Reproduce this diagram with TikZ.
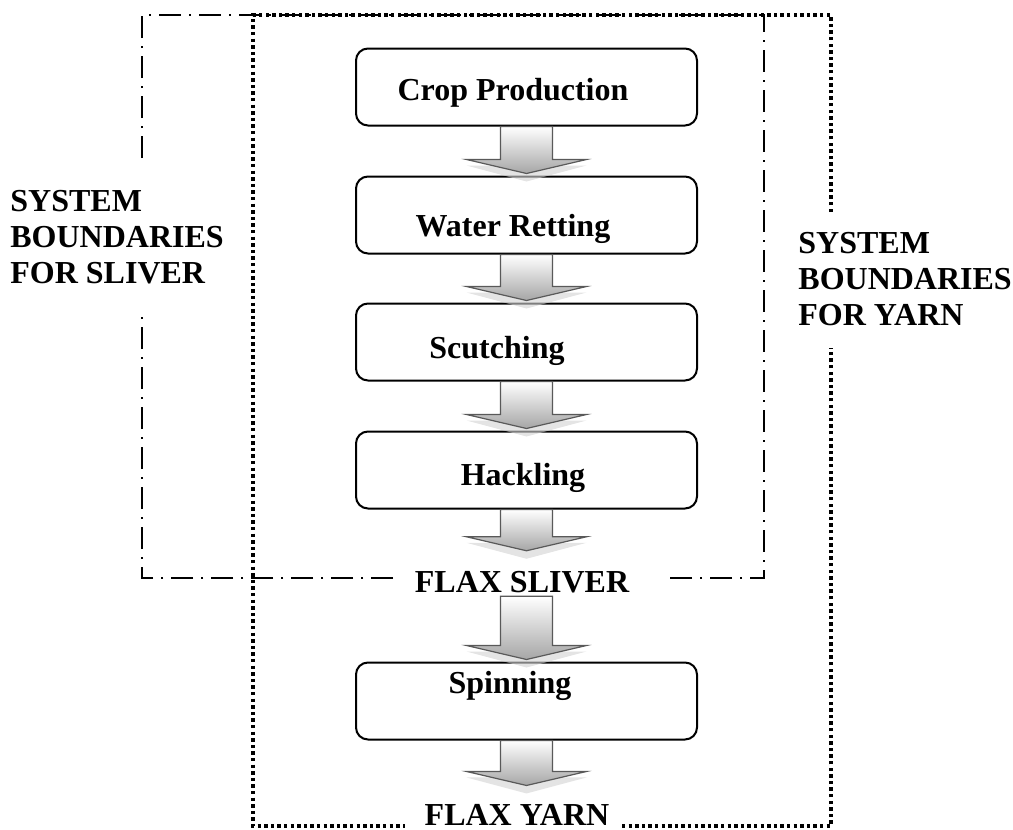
\documentclass[tikz,border=0pt]{standalone}
\usepackage{fontspec}
\setmainfont{Liberation Serif}
\usetikzlibrary{positioning, calc}

% block arrow from a start point down to a tip point
\newcommand{\flowarrow}[2]{%
  \fill[gray!35, opacity=0.6] let \p1=(#1), \p2=(#2), \p3=(crop.center) in
    (\x3-30pt,\y2+4pt) -- (\x3+30pt,\y2+4pt) -- (\x3,\y2-4pt) -- cycle;
  \path[blockarrow] let \p1=(#1), \p2=(#2), \p3=(crop.center) in
    (\x3-13pt,\y1) -- (\x3+13pt,\y1) -- (\x3+13pt,\y2+7pt) -- (\x3+30pt,\y2+7pt)
    -- (\x3,\y2) -- (\x3-30pt,\y2+7pt) -- (\x3-13pt,\y2+7pt) -- cycle;
}

\begin{document}
\begin{tikzpicture}[
        x=0.5pt, y=-0.5pt,
        font=\fontsize{16}{18}\selectfont\bfseries,
        stepbox/.style={draw, line width=1pt, rounded corners=6pt, minimum width=170.5pt, minimum height=38.5pt},
        steptext/.style={inner sep=0pt, anchor=base},
        sidelabel/.style={inner sep=0pt, align=left, anchor=north west},
        blockarrow/.style={draw=gray!70!black, line width=0.6pt, top color=white, bottom color=gray!70},
        sliverline/.style={line width=1pt, dash pattern=on 11pt off 4pt on 1pt off 4pt},
        yarnline/.style={line width=1.7pt, dash pattern=on 1.7pt off 1.6pt}
    ]
    \useasboundingbox (0,0) rectangle (1013,830);

    % process steps
    \node[stepbox] (crop) at (526.5,87) {};
    \node[stepbox, below=24.5pt of crop] (retting) {};
    \node[stepbox, below=24pt of retting] (scutching) {};
    \node[stepbox, below=24.5pt of scutching] (hackling) {};
    \node[stepbox, below=76pt of hackling] (spinning) {};

    \node[steptext] (croptext) at ([shift={(-13.5,13)}]crop.center) {Crop Production};
    \node[steptext] (rettingtext) at ([shift={(-13.5,21.5)}]retting.center) {Water Retting};
    \node[steptext] (scutchingtext) at ([shift={(-29.5,16)}]scutching.center) {Scutching};
    \node[steptext] (hacklingtext) at ([shift={(-3.5,15)}]hackling.center) {Hackling};
    \node[steptext] (spinningtext) at ([shift={(-16.5,-8)}]spinning.center) {Spinning};

    % products
    \node[inner sep=0pt] (sliver) at (522,582) {FLAX SLIVER};
    \node[steptext] (yarn) at (517,825) {FLAX YARN};

    % boundary labels
    \node[sidelabel] (sliverbound) at (10,190) {SYSTEM\\BOUNDARIES\\FOR SLIVER};
    \node[sidelabel] (yarnbound) at (798,232) {SYSTEM\\BOUNDARIES\\FOR YARN};

    % system boundaries
    \draw[sliverline] (142,158) -- (142,15) -- (764,15) -- (764,578) -- (663,578);
    \draw[sliverline] (393,578) -- (142,578) -- (142,315);
    \draw[yarnline] (831,212) -- (831,15) -- (253,15) -- (253,826) -- (405,826);
    \draw[yarnline] (622,826) -- (831,826) -- (831,348);

    % arrows
    \flowarrow{crop.south}{[yshift=1pt]retting.north}
    \flowarrow{retting.south}{[yshift=1pt]scutching.north}
    \flowarrow{scutching.south}{[yshift=1pt]hackling.north}
    \flowarrow{hackling.south}{[yshift=10pt]sliver.north}
    \flowarrow{[yshift=-1.5pt]sliver.south}{[yshift=1pt]spinning.north}
    \flowarrow{spinning.south}{[yshift=9pt]yarn.north}
\end{tikzpicture}
\end{document}
